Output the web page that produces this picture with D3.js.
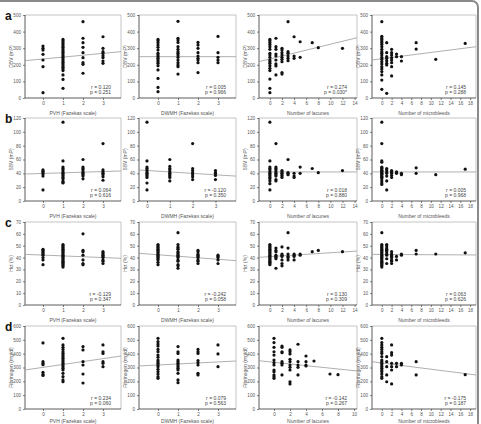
<!DOCTYPE html>
<html><head><meta charset="utf-8">
<script src="https://cdn.jsdelivr.net/npm/d3@7"></script>
<style>body{margin:0;background:#fff}svg{display:block;font-family:Arial,"Liberation Sans",sans-serif}</style>
</head><body>
<script>
// ---------- data ----------
const rowLetters = ["a", "b", "c", "d"];
const yLabels = ["DBV (mP)", "SBV (mP)", "Hct (%)", "Fibrinogen (mg/dl)"];
const xLabels = ["PVH (Fazekas scale)", "DWMH (Fazekas scale)", "Number of lacunes", "Number of microbleeds"];
const yTickVals = [
  [0, 100, 200, 300, 400, 500],
  [0, 20, 40, 60, 80, 100, 120],
  [0, 10, 20, 30, 40, 50, 60, 70],
  [0, 100, 200, 300, 400, 500, 600]
];
const yMax = [500, 120, 70, 600];
const fazekasTicks = [0, 1, 2, 3];
const lacuneTicks = [0, 2, 4, 6, 8, 10, 12, 14];
const lacuneTicksD = [0, 2, 4, 6, 8, 10];
const mbTicks = [0, 2, 4, 6, 8, 10, 12, 14, 16, 18];

// each: [x value, [y values]]
const dbvPvh = [[0,[313,299,289,263,229,189,32]],[1,[353,345,335,325,315,305,295,285,275,265,255,245,235,225,215,205,195,185,175,165,139,112,58]],[2,[460,360,333,305,273,243,213,203,149]],[3,[369,299,279,269,255,243,223,209]]];
const dbvDwmh = [[0,[353,345,333,319,305,289,269,259,249,239,229,219,209,195,169,118,64,38]],[1,[462,360,349,335,309,293,279,269,259,245,229,213,199,189,144]],[2,[335,319,299,273,253,239,229,213,153]],[3,[371,273,245,229,213]]];
const dbvLac = [[0,[353,345,333,322,309,293,269,259,245,229,219,209,195,179,165,114,58,32]],[1,[360,309,293,265,253,229,205,193,139]],[2,[299,289,273,259,245,233,219,153,144]],[3,[460,279,269,253,239,225]],[4,[369,253,239]],[5,[339,245]],[7,[333]],[8,[303]],[12,[299]]];
const dbvMb = [[0,[460,372,362,353,343,333,323,309,293,279,269,259,245,233,219,205,189,175,159,139,108,52]],[1,[333,273,249,239,225,209,199,28]],[2,[293,273,259,243,229,213,189,133]],[3,[265,249]],[4,[249,223]],[7,[333,295]],[11,[233]],[17,[329]]];

const sbvPvh = [[0,[45,43,41,39,36,16]],[1,[114,58,49,47,45,42,40,38,36,34,32,29,27,26]],[2,[60,49,47,45,42,40,38,36,32]],[3,[83,45,42,40,38,35,30]]];
const sbvDwmh = [[0,[114,58,49,47,45,42,40,38,36,34,26,16]],[1,[60,50,47,45,42,40,38,36,34,29]],[2,[83,47,44,41,38,35,31]],[3,[44,41,40,37,31]]];
const sbvLac = [[0,[114,58,49,47,45,42,40,38,36,34,32,29,25,16]],[1,[83,49,47,45,42,40,38,36,31,29]],[2,[44,42,40,38,36,34]],[3,[60,41,40,38]],[4,[40,36,34]],[5,[49,40]],[7,[47]],[8,[41]],[12,[44]]];
const sbvMb = [[0,[114,83,58,56,49,48,47,45,44,43,41,40,39,38,36,35,34,32,29,26,24]],[1,[47,45,42,40,36,29,16]],[2,[44,42,40,37,34]],[3,[42,40]],[4,[40,38]],[7,[48,40]],[11,[38]],[17,[46]]];

const hctPvh = [[0,[47,46,45,44,43,42,40,38,34]],[1,[51,50,49,48,47,46,45,44,43,42,41,40,39,38,37,36,35,34,33,32]],[2,[60,46,45,42,38,35,34]],[3,[45,44,43,42,41,40,38,37,35]]];
const hctDwmh = [[0,[51,50,49,48,47,46,45,44,43,42,41,40,39,38,36,34]],[1,[61,51,49,48,47,45,44,43,42,41,40,38,37,34,33,31]],[2,[46,45,43,42,41,40,38,37,35]],[3,[42,41,40,38,35]]];
const hctLac = [[0,[51,50,49,48,47,46,45,44,43,42,41,40,39,38,37,36,35,34]],[1,[48,46,45,42,41,40,39,31]],[2,[49,43,42,41,38,35,33]],[3,[61,48,43,41,40,38]],[4,[43,42,41,38]],[5,[43,42]],[7,[45]],[8,[46]],[12,[45]]];
const hctMb = [[0,[61,51,50,49,48,47,46,45,44,43,42,41,40,39,38,37,36,35,34,33,32]],[1,[51,50,48,47,46,45,43,42,39,35]],[2,[45,43,42,41,40,38,37,35]],[3,[41,38]],[4,[43,42]],[7,[46,43]],[11,[43]],[17,[44]]];

const fibPvh = [[0,[478,342,330,320,265,250,243]],[1,[511,463,446,431,414,402,390,378,366,354,342,330,318,306,294,282,258,234,210,197]],[2,[451,427,342,318,253,188]],[3,[463,414,402,342,330,306]]];
const fibDwmh = [[0,[511,487,470,455,431,414,390,374,354,342,330,318,306,287,270,253,234,222]],[1,[451,414,402,354,342,330,318,306,294,282,258,210,190]],[2,[431,414,402,350,335,318,258,246]],[3,[463,398,306]]];
const fibLac = [[0,[511,480,446,414,390,354,335,318,282,270,246,234,222]],[1,[455,446,414,407,342,330,318,246]],[2,[427,414,398,359,342,318,301,282,197,181]],[3,[468,342,318,301,246]],[4,[383,342,318,311]],[5,[347]],[7,[253]],[8,[248]]];
const fibMb = [[0,[511,480,463,446,431,414,402,378,354,342,330,318,306,294,282,270,253,234,222]],[1,[378,342,306,246,197]],[2,[463,407,390,330,306,282,181]],[3,[330,306]],[4,[330,318]],[7,[342,246]],[17,[248]]];

// fitted regression line values at left / right edge of the x domain
const fitLines = [
  [[225,279],[249,249],[219,363],[229,309]],
  [[39,43.4],[44.8,36],[42,42],[42,42]],
  [[42.7,39.4],[43.6,37.4],[40.2,45.5],[42.7,42.2]],
  [[282,383],[311,347],[349,275],[342,246]]
];
const rStats = [["0.120","0.005","0.274","0.145"],["0.064","-0.120","0.018","0.005"],["-0.129","-0.242","0.130","0.063"],["0.234","0.079","-0.142","-0.175"]];
const pStats = [["0.251","0.966","0.030*","0.288"],["0.616","0.350","0.880","0.968"],["0.347","0.058","0.309","0.626"],["0.060","0.563","0.267","0.187"]];

const panelData = [
  [dbvPvh, dbvDwmh, dbvLac, dbvMb],
  [sbvPvh, sbvDwmh, sbvLac, sbvMb],
  [hctPvh, hctDwmh, hctLac, hctMb],
  [fibPvh, fibDwmh, fibLac, fibMb]
];

// ---------- layout ----------
const W = 481, H = 424;
const rowTop = [15, 118, 222, 326], plotH = 83;
const colX = [[25,121],[139,236],[259,357],[372,476]];
const xTitleGap = [16.5, 16.5, 16.5, 13.5];
function xDomain(r, c) {
  if (c === 0) return [-0.9, 3.9];
  if (c === 1) return r === 1 ? [-0.35, 3.9] : [-0.95, 3.9];
  if (c === 2) return r === 3 ? [-1.875, 10.375] : [-1.8, 14.4];
  return [-2, 19.2];
}
function xTicks(r, c) {
  if (c < 2) return fazekasTicks;
  if (c === 2) return r === 3 ? lacuneTicksD : lacuneTicks;
  return mbTicks;
}

const svg = d3.select("body").append("svg").attr("width", W).attr("height", H);
svg.append("rect").attr("x", -10).attr("y", 1).attr("width", 488).attr("height", 440)
  .attr("rx", 6).attr("fill", "none").attr("stroke", "#8a8a8a").attr("stroke-width", 2);

const tickFont = 4.6, titleFont = 5;

for (let r = 0; r < 4; r++) {
  svg.append("text").attr("x", 5).attr("y", rowTop[r] + 5).attr("font-size", 12)
    .attr("font-weight", "bold").attr("fill", "#111").text(rowLetters[r]);
  for (let c = 0; c < 4; c++) {
    const x = d3.scaleLinear().domain(xDomain(r, c)).range(colX[c]);
    const y = d3.scaleLinear().domain([0, yMax[r]]).range([rowTop[r] + plotH, rowTop[r]]);
    const g = svg.append("g");
    g.append("path").attr("d", `M${colX[c][0]},${y(yMax[r])}H${colX[c][1]}V${y(0)}`)
      .attr("fill", "none").attr("stroke", "#b5b5b5").attr("stroke-width", 0.8);
    const ya = g.append("g").attr("transform", `translate(${colX[c][0]},0)`)
      .call(d3.axisLeft(y).tickValues(yTickVals[r]).tickFormat(d3.format("d")).tickSize(2).tickPadding(2));
    const xa = g.append("g").attr("transform", `translate(0,${y(0)})`)
      .call(d3.axisBottom(x).tickValues(xTicks(r, c)).tickFormat(d3.format("d")).tickSize(2).tickPadding(2));
    [ya, xa].forEach(a => {
      a.select(".domain").attr("stroke", "#333").attr("stroke-width", 0.8);
      a.selectAll(".tick line").attr("stroke", "#333").attr("stroke-width", 0.6);
      a.selectAll("text").attr("font-size", tickFont).attr("fill", "#555").attr("font-family", "Arial,'Liberation Sans',sans-serif");
    });
    xa.select(".domain").attr("d", `M${colX[c][0]},0H${colX[c][1]}`);
    ya.select(".domain").attr("d", `M0,${y(yMax[r])}V${y(0)}`);
    g.append("text").attr("transform", `translate(${colX[c][0] - 12},${rowTop[r] + plotH / 2}) rotate(-90)`)
      .attr("text-anchor", "middle").attr("font-size", titleFont).attr("fill", "#555").text(yLabels[r]);
    g.append("text").attr("x", (colX[c][0] + colX[c][1]) / 2).attr("y", y(0) + xTitleGap[r])
      .attr("text-anchor", "middle").attr("font-size", titleFont).attr("fill", "#555").text(xLabels[c]);
    const d = x.domain(), fl = fitLines[r][c];
    g.append("line").attr("x1", x(d[0])).attr("x2", x(d[1])).attr("y1", y(fl[0])).attr("y2", y(fl[1]))
      .attr("stroke", "#9a9a9a").attr("stroke-width", 0.8);
    const pts = panelData[r][c].flatMap(([xv, ys]) => ys.map(v => [xv, v]));
    g.selectAll("circle").data(pts).join("circle")
      .attr("cx", p => x(p[0])).attr("cy", p => y(p[1])).attr("r", 1.6).attr("fill", "#111");
    g.append("text").attr("x", colX[c][1] - 10).attr("y", y(0) - 9).attr("text-anchor", "end")
      .attr("font-size", titleFont).attr("fill", "#444").text("r = " + rStats[r][c]);
    g.append("text").attr("x", colX[c][1] - 10).attr("y", y(0) - 4).attr("text-anchor", "end")
      .attr("font-size", titleFont).attr("fill", "#444").text("p = " + pStats[r][c]);
  }
}
</script>
</body></html>
